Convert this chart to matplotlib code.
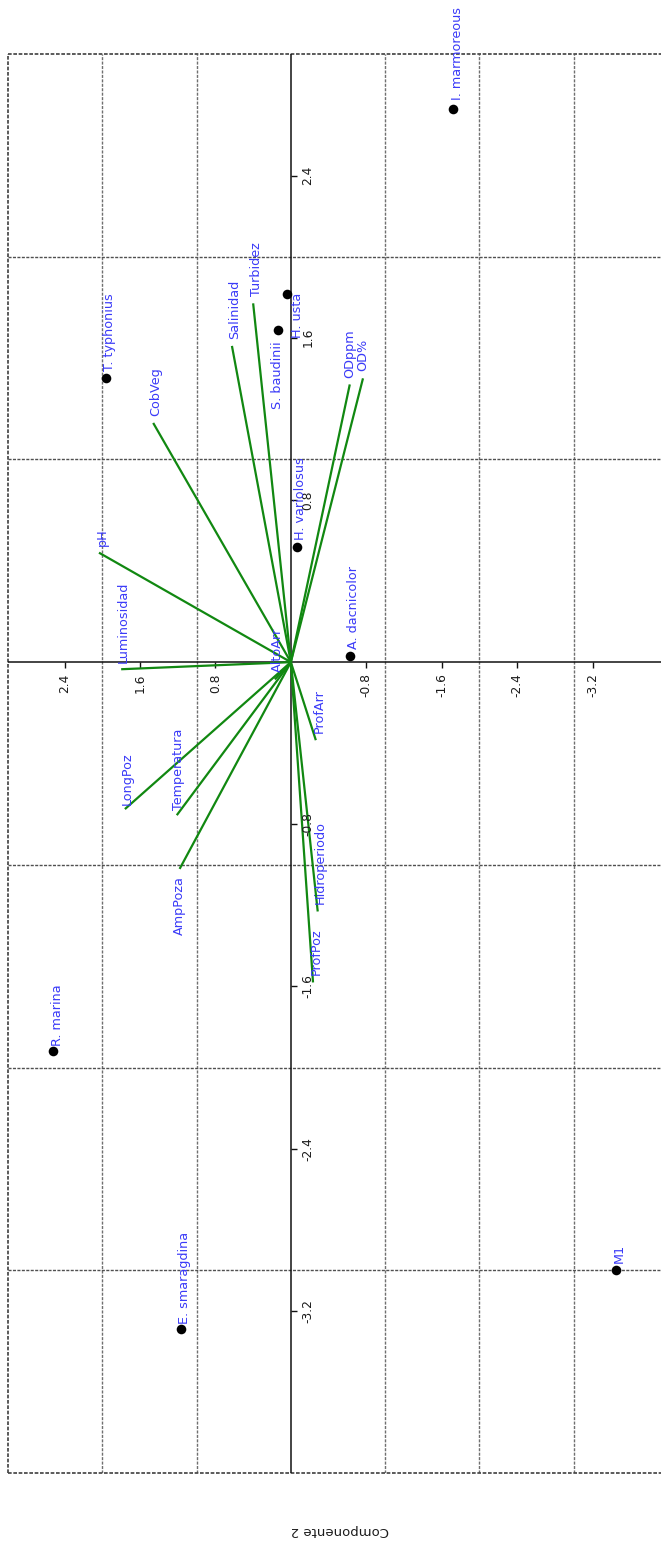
import matplotlib
matplotlib.use('Agg')
import matplotlib.pyplot as plt
from matplotlib.markers import TICKDOWN, TICKRIGHT

# ---------------- data (Componente 1, Componente 2) ----------------
species = ['I. marmoreous', 'T. typhonius', 'H. usta', 'S. baudinii', 'H. variolosus',
           'A. dacnicolor', 'R. marina', 'E. smaragdina', 'M1']
sp_comp1 = [2.73, 1.40, 1.815, 1.64, 0.57, 0.03, -1.92, -3.29, -3.00]
sp_comp2 = [-1.72, 1.96, 0.04, 0.14, -0.07, -0.63, 2.52, 1.16, -3.45]

variables = ['Turbidez', 'Salinidad', 'CobVeg', 'pH', 'Luminosidad', 'LongPoz',
             'Temperatura', 'AmpPoza', 'ProfArr', 'Hidroperiodo', 'ProfPoz',
             'ODppm', 'OD%', 'AltoArr']
var_comp1 = [1.77, 1.56, 1.18, 0.54, -0.035, -0.725, -0.755, -1.02, -0.385,
             -1.23, -1.58, 1.37, 1.40, -0.085]
var_comp2 = [0.40, 0.625, 1.46, 2.035, 1.80, 1.76, 1.21, 1.18, -0.265,
             -0.285, -0.235, -0.625, -0.765, 0.17]

tick_vals = [2.4, 1.6, 0.8, -0.8, -1.6, -2.4, -3.2]
tick_labels = ['2.4', '1.6', '0.8', '-0.8', '-1.6', '-2.4', '-3.2']
grid_comp2 = [2, 1, -1, -2, -3]
grid_comp1 = [2, 1, -1, -2, -3]
lim_comp2 = (3, -4)
lim_comp1 = (-4, 3)

# label placement (image pixels: dx right, dy down) and alignment
default_off = (3, -7)
label_special = {
    'H. usta': ('right', (10, -1)),
    'S. baudinii': ('right', (0, 12)),
    'AmpPoza': ('right', (0, 7)),
    'I. marmoreous': ('left', (4, -9)),
    'Luminosidad': ('left', (2, -6)),
    'LongPoz': ('left', (2, -4)),
    'Temperatura': ('left', (2, -5)),
    'ODppm': ('left', (0, -6)),
    'OD%': ('left', (0, -7)),
    'R. marina': ('left', (4, -5)),
    'E. smaragdina': ('left', (3, -5)),
}

W, H = 661, 1543
fig = plt.figure(figsize=(W / 100, H / 100), dpi=100)
fig.patch.set_facecolor('white')
ax = fig.add_axes([8 / W, (H - 1473) / H, 660 / W, (1473 - 54) / H])
ax.set_xlim(*lim_comp2)
ax.set_ylim(*lim_comp1)
ax.axis('off')

dash = (0, (2.2, 1.0))
for v in grid_comp2:
    ax.axvline(v, color='#707070', lw=1.0, ls=dash, zorder=1)
for v in grid_comp1:
    ax.axhline(v, color='#505050', lw=1.0, ls=dash, zorder=1)
# dashed frame (right side falls outside the picture)
ax.axvline(lim_comp2[0], color='#404040', lw=1.2, ls=dash, zorder=1, clip_on=False)
for v in lim_comp1:
    ax.axhline(v, color='#404040', lw=1.2, ls=dash, zorder=1, clip_on=False)

# zero axes
ax.axhline(0, color='#111111', lw=1.1, zorder=2)
ax.axvline(0, color='#111111', lw=1.1, zorder=2)

# ticks on zero axes
ax.plot(tick_vals, [0] * len(tick_vals), ls='none', marker=TICKDOWN, ms=4.5,
        mew=1.0, color='#111111', zorder=2)
ax.plot([0] * len(tick_vals), tick_vals, ls='none', marker=TICKRIGHT, ms=4.5,
        mew=1.0, color='#111111', zorder=2)
for v, lab in zip(tick_vals, tick_labels):
    ax.annotate(lab, (v, 0), xytext=(0, -11), textcoords='offset pixels',
                rotation=90, rotation_mode='anchor', ha='right', va='center',
                fontsize=8.8, color='#1a1a1a', zorder=6)
    ax.annotate(lab, (0, v), xytext=(17, 0), textcoords='offset pixels',
                rotation=90, rotation_mode='anchor', ha='center', va='center',
                fontsize=8.8, color='#1a1a1a', zorder=6)

# biplot vectors
for c1, c2 in zip(var_comp1, var_comp2):
    ax.plot([0, c2], [0, c1], color='#118811', lw=1.6, zorder=3,
            solid_capstyle='butt')

# species points
ax.scatter(sp_comp2, sp_comp1, s=48, color='black', zorder=5, linewidths=0)

txt_color = '#3a3af8'


def put_label(name, x, y):
    ha, (dx, dy) = label_special.get(name, ('left', default_off))
    ax.annotate(name, (x, y), xytext=(dx, -dy), textcoords='offset pixels',
                rotation=90, rotation_mode='anchor', ha=ha, va='center',
                fontsize=9.2, color=txt_color, zorder=7)


for name, c1, c2 in zip(variables, var_comp1, var_comp2):
    put_label(name, c2, c1)
for name, c1, c2 in zip(species, sp_comp1, sp_comp2):
    put_label(name, c2, c1)

fig.text(340 / W, 1 - 1530 / H, 'Componente 2', rotation=180, ha='center',
         va='center', fontsize=9.5, color='#1a1a1a')

fig.savefig('out.png', dpi=100, facecolor='white')
